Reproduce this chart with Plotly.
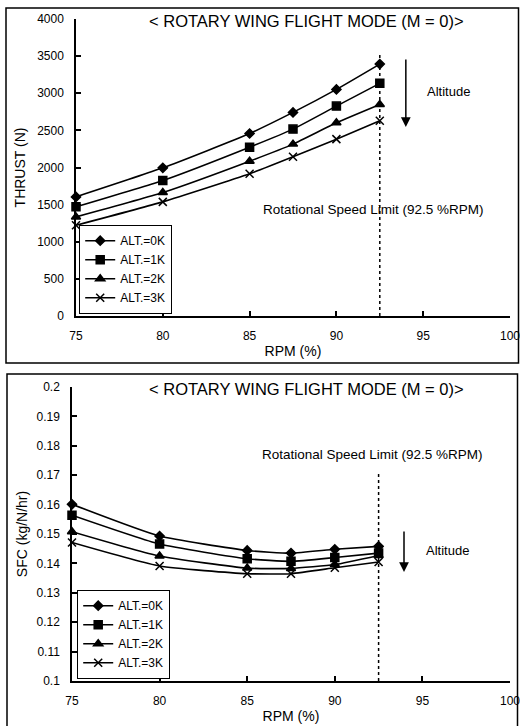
import plotly.graph_objects as go

rpm = [75, 80, 85, 87.5, 90, 92.5]
alt_names = ["ALT.=0K", "ALT.=1K", "ALT.=2K", "ALT.=3K"]
thrust = [
    [1604, 1995, 2458, 2742, 3052, 3393],
    [1470, 1825, 2274, 2517, 2827, 3133],
    [1335, 1663, 2085, 2315, 2602, 2849],
    [1222, 1537, 1915, 2144, 2382, 2629],
]
sfc = [
    [0.1601, 0.1493, 0.1444, 0.1435, 0.1448, 0.1458],
    [0.1564, 0.1466, 0.1416, 0.1407, 0.1420, 0.1435],
    [0.1508, 0.1425, 0.1384, 0.1383, 0.1396, 0.1427],
    [0.1471, 0.1391, 0.1365, 0.1365, 0.1385, 0.1405],
]
x_ticks = [75, 80, 85, 90, 95, 100]
thrust_ticks = [0, 500, 1000, 1500, 2000, 2500, 3000, 3500, 4000]
sfc_ticks = [0.1, 0.11, 0.12, 0.13, 0.14, 0.15, 0.16, 0.17, 0.18, 0.19, 0.2]
rpm_limit = 92.5
title_text = "&lt; ROTARY WING FLIGHT MODE (M = 0)&gt;"

symbols = ["diamond", "square", "triangle-up", "x-thin"]
sizes = [7, 8, 8, 8]

W, H = 520, 726
FONT = "Liberation Sans, Arial, sans-serif"

fig = go.Figure()

for i in range(4):
    fig.add_trace(go.Scatter(
        x=rpm, y=thrust[i], name=alt_names[i], mode="lines+markers", cliponaxis=False,
        line=dict(color="black", width=1.6, shape="spline", smoothing=0.5),
        marker=dict(symbol=symbols[i], size=sizes[i], color="black",
                    line=dict(color="black", width=1.5)),
        xaxis="x", yaxis="y", legend="legend"))
for i in range(4):
    fig.add_trace(go.Scatter(
        x=rpm, y=sfc[i], name=alt_names[i], mode="lines+markers", cliponaxis=False,
        line=dict(color="black", width=1.6, shape="spline", smoothing=0.5),
        marker=dict(symbol=symbols[i], size=sizes[i], color="black",
                    line=dict(color="black", width=1.5)),
        xaxis="x2", yaxis="y2", legend="legend2"))

axis_common = dict(showline=True, linecolor="black", linewidth=1.5,
                   ticks="inside", ticklen=5, tickcolor="black", tickwidth=1.5,
                   showgrid=False, zeroline=False, mirror=False, automargin=False,
                   ticklabeloverflow="allow",
                   tickfont=dict(family=FONT, size=12, color="black"))

def px_x(p):
    return p / W

def px_y(p):
    return (H - p) / H

fig.update_layout(
    width=W, height=H, margin=dict(l=0, r=0, t=0, b=0),
    paper_bgcolor="white", plot_bgcolor="white",
    font=dict(family=FONT, color="black"),
    xaxis=dict(domain=[px_x(76), px_x(510)], range=[75, 100], tickvals=x_ticks,
               anchor="y", title=dict(text="RPM (%)", font=dict(size=14), standoff=4),
               ticklabelstandoff=8, **axis_common),
    yaxis=dict(domain=[px_y(316), px_y(19)], range=[0, 4000], tickvals=thrust_ticks,
               anchor="x", title=dict(text="THRUST (N)", font=dict(size=14), standoff=8),
               ticklabelstandoff=8, **axis_common),
    xaxis2=dict(domain=[px_x(72), px_x(510)], range=[75, 100], tickvals=x_ticks,
                anchor="y2", title=dict(text="RPM (%)", font=dict(size=14), standoff=4),
                ticklabelstandoff=8, **axis_common),
    yaxis2=dict(domain=[px_y(681), px_y(387)], range=[0.1, 0.2], tickvals=sfc_ticks,
                tickformat=".2~f",
                anchor="x2", title=dict(text="SFC (kg/N/hr)", font=dict(size=14), standoff=6),
                ticklabelstandoff=8, **axis_common),
    legend=dict(x=px_x(79), y=px_y(314), xanchor="left", yanchor="bottom",
                bordercolor="black", borderwidth=1.2, bgcolor="white",
                font=dict(family=FONT, size=12, color="black"),
                tracegroupgap=0, itemwidth=30),
    legend2=dict(x=px_x(77), y=px_y(679), xanchor="left", yanchor="bottom",
                 bordercolor="black", borderwidth=1.2, bgcolor="white",
                 font=dict(family=FONT, size=12, color="black"),
                 tracegroupgap=0, itemwidth=30),
    showlegend=True,
)

# rotational speed limit dotted lines
fig.add_shape(type="line", xref="x", yref="y", x0=rpm_limit, x1=rpm_limit, y0=0, y1=3540,
              line=dict(color="black", width=1.5, dash="dot"))
fig.add_shape(type="line", xref="x2", yref="y2", x0=rpm_limit, x1=rpm_limit, y0=0.1, y1=0.1705,
              line=dict(color="black", width=1.5, dash="dot"))

# panel frames
fig.add_shape(type="rect", xref="paper", yref="paper", x0=px_x(6), x1=px_x(518.5),
              y0=px_y(363), y1=px_y(8), line=dict(color="black", width=1.5))
fig.add_shape(type="rect", xref="paper", yref="paper", x0=px_x(7), x1=px_x(517.5),
              y0=px_y(740), y1=px_y(374), line=dict(color="black", width=1.5))

# titles
fig.add_annotation(xref="paper", yref="paper", x=px_x(306), y=px_y(21), text=title_text,
                   showarrow=False, font=dict(size=16.5, family=FONT), xanchor="center", yanchor="middle")
fig.add_annotation(xref="paper", yref="paper", x=px_x(306), y=px_y(389), text=title_text,
                   showarrow=False, font=dict(size=16.5, family=FONT), xanchor="center", yanchor="middle")

# speed limit labels
fig.add_annotation(xref="x", yref="y", x=92.15, y=1430, text="Rotational Speed Limit (92.5 %RPM)",
                   showarrow=False, font=dict(size=13.5, family=FONT), xanchor="center")
fig.add_annotation(xref="x2", yref="y2", x=92.15, y=0.1772, text="Rotational Speed Limit (92.5 %RPM)",
                   showarrow=False, font=dict(size=13.5, family=FONT), xanchor="center")

# altitude arrows
fig.add_annotation(xref="x", yref="y", axref="x", ayref="y", x=94.0, y=2545, ax=94.0, ay=3475,
                   text="", showarrow=True, arrowhead=2, arrowsize=1.3, arrowwidth=1.5, arrowcolor="black")
fig.add_annotation(xref="x", yref="y", x=95.1, y=3030, text="Altitude", showarrow=False,
                   font=dict(size=13, family=FONT), xanchor="left")
fig.add_annotation(xref="x2", yref="y2", axref="x2", ayref="y2", x=93.95, y=0.1371, ax=93.95, ay=0.1514,
                   text="", showarrow=True, arrowhead=2, arrowsize=1.3, arrowwidth=1.5, arrowcolor="black")
fig.add_annotation(xref="x2", yref="y2", x=95.1, y=0.1445, text="Altitude", showarrow=False,
                   font=dict(size=13, family=FONT), xanchor="left")

fig.write_html("out.html", config={"displayModeBar": False},
               post_script="document.body.style.margin='0';document.body.style.padding='0';")
